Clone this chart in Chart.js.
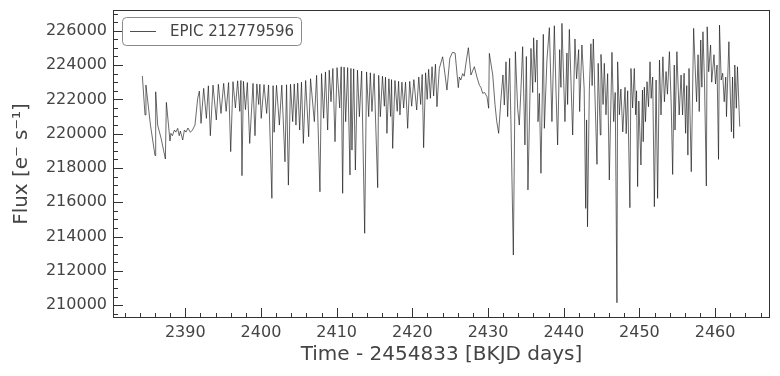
<!DOCTYPE html>
<html>
<head>
<meta charset="utf-8">
<script src="https://cdn.jsdelivr.net/npm/chart.js@4.4.1/dist/chart.umd.min.js"></script>
<style>
  html, body { margin: 0; padding: 0; background: #fff; }
  #wrap { width: 780px; height: 376px; }
</style>
</head>
<body>
<div id="wrap"><canvas id="lc" width="780" height="376"></canvas></div>
<script>
// Time (BKJD - 2454833)
const time = [
2384.33,2384.68,2384.80,2385.40,2386.00,2386.09,2386.35,2386.80,2387.37,2387.50,
2387.98,2388.10,2388.30,2388.56,2388.75,2389.00,2389.20,2389.35,2389.66,2389.88,
2390.10,2390.35,2390.67,2390.95,2391.28,2391.64,2391.86,2392.08,2392.43,2392.79,
2393.05,2393.31,2393.66,2394.10,2394.37,2394.72,2395.07,2395.40,2395.72,2396.00,
2396.30,2396.62,2396.92,2397.20,2397.35,2397.49,2397.68,2397.95,2398.20,2398.51,
2398.95,2399.21,2399.45,2399.70,2399.85,2400.03,2400.40,2400.75,2401.00,2401.44,
2401.60,2401.74,2402.05,2402.43,2402.75,2403.17,2403.38,2403.62,2403.90,2404.19,
2404.40,2404.62,2404.85,2405.11,2405.35,2405.60,2405.90,2406.30,2406.55,2407.05,
2407.35,2407.79,2408.00,2408.28,2408.52,2408.81,2409.02,2409.25,2409.50,2409.78,
2410.05,2410.40,2410.60,2410.79,2410.98,2411.19,2411.45,2411.76,2411.88,2412.02,
2412.25,2412.47,2412.75,2413.00,2413.30,2413.70,2413.95,2414.23,2414.45,2414.66,
2414.95,2415.42,2415.55,2415.77,2416.05,2416.30,2416.45,2416.64,2416.90,2417.13,
2417.25,2417.40,2417.70,2418.00,2418.18,2418.36,2418.62,2418.85,2419.10,2419.38,
2419.65,2419.91,2420.20,2420.57,2420.85,2421.10,2421.30,2421.49,2421.75,2421.96,
2422.15,2422.38,2422.60,2422.81,2423.05,2423.25,2423.56,2424.00,2424.30,2424.57,
2424.95,2425.30,2425.65,2426.07,2426.20,2426.40,2426.65,2426.85,2427.08,2427.40,
2427.74,2428.19,2428.53,2428.85,2429.05,2429.29,2429.55,2429.86,2430.08,2430.17,
2430.62,2430.92,2431.14,2431.40,2431.71,2431.97,2432.15,2432.37,2432.59,2432.85,
2433.03,2433.34,2433.61,2433.91,2434.13,2434.35,2434.57,2434.87,2435.06,2435.27,
2435.67,2435.90,2436.02,2436.25,2436.46,2436.60,2436.78,2436.99,2437.30,2437.44,
2437.78,2438.10,2438.44,2438.76,2438.97,2439.19,2439.46,2439.63,2439.76,2440.16,
2440.42,2440.51,2440.74,2441.18,2441.48,2441.70,2441.97,2442.10,2442.40,2442.70,
2442.90,2443.02,2443.14,2443.38,2443.59,2443.75,2443.91,2444.10,2444.39,2444.55,
2444.83,2444.92,2445.20,2445.36,2445.58,2445.80,2446.02,2446.37,2446.60,2446.80,
2447.03,2447.12,2447.35,2447.55,2447.80,2448.10,2448.25,2448.45,2448.74,2448.88,
2449.10,2449.32,2449.50,2449.62,2449.76,2449.92,2450.20,2450.40,2450.50,2450.65,
2450.80,2451.00,2451.20,2451.40,2451.55,2451.75,2451.97,2452.20,2452.40,2452.65,
2452.85,2453.10,2453.30,2453.52,2453.70,2453.96,2454.20,2454.39,2454.60,2454.70,
2454.95,2455.25,2455.50,2455.70,2455.90,2456.10,2456.25,2456.40,2456.55,2456.85,
2457.16,2457.35,2457.55,2457.75,2457.90,2458.10,2458.25,2458.39,2458.60,2458.84,
2458.95,2459.15,2459.40,2459.55,2459.85,2460.05,2460.25,2460.45,2460.58,2460.80,
2461.00,2461.20,2461.40,2461.50,2461.82,2461.95,2462.15,2462.30,2462.45,2462.60,
2462.80,2462.95,2463.25
];

// Flux in e-/s
const flux = [
223360,221090,222830,220500,218720,222440,220500,219730,218520,221820,
219570,220020,219880,220210,220090,220310,219880,220150,219630,220210,
220090,220330,220080,220210,220500,222060,222480,220600,222640,220890,
222790,219880,222830,220800,222880,221180,222930,221300,222980,218950,
223030,221500,223080,221300,223100,217550,223050,221400,222980,219430,
222930,219880,222900,221700,222880,220890,222860,221180,222840,216230,
222800,220080,222820,220500,222830,218360,222850,217000,222880,220700,
222900,220500,222950,220210,223000,219430,223100,219820,223200,220700,
223400,216610,223500,220900,223600,220210,223700,221860,223800,219530,
223850,221500,223900,216520,223880,220700,223850,217590,223800,219040,
223780,217880,223700,220990,223650,214190,223600,220990,223550,221290,
223500,216850,223400,220990,223350,221600,223300,220020,223200,221000,
223150,219140,223100,221300,223050,221090,223000,221500,223000,220310,
223050,221600,223150,221380,223300,221700,223450,219180,223550,222000,
223750,222060,223900,222200,224050,221570,223800,224480,223500,222540,
224400,224740,224700,222680,223300,223130,223500,223350,224100,225010,
223420,223900,223300,222830,222700,222350,222400,222150,221480,224680,
223420,221700,220740,220020,222060,223420,221670,224190,220990,224390,
220500,212920,224780,221480,220500,222620,225070,219340,224500,216720,
224970,222400,225590,223000,225460,220700,222350,217690,225790,220310,
224300,226180,220700,226290,222600,219340,224900,222700,226430,220700,
224700,221700,226080,219920,225520,223200,224900,221290,225170,222600,
215640,220800,214570,222500,225240,222800,225520,222600,218210,224100,
219920,224620,221700,224100,221100,223500,217300,224740,220700,222400,
210140,224190,221100,222600,220100,222700,220000,222500,215680,223800,
221500,223800,221100,222500,216910,221900,218170,222540,219530,222710,
220700,223030,221570,224190,222060,223300,215740,223130,216230,224290,
221090,224480,221860,223620,222300,224780,221670,217620,224000,220210,
224780,221090,223420,221090,223520,220020,222800,218750,223800,217780,
226140,224000,221860,224600,221290,225460,222710,225940,223000,216950,
226230,223610,225170,223000,224600,222900,224000,218500,226330,223130,
223520,221860,223300,220990,225360,223130,220110,223300,219730,224000,
221480,223900,220410
];

const xTicks = [2390, 2400, 2410, 2420, 2430, 2440, 2450, 2460];
const yTicks = [210000, 212000, 214000, 216000, 218000, 220000, 222000, 224000, 226000];
const seriesLabel = 'EPIC 212779596';

const ink = '#444444';
const spine = '#333333';

// matplotlib-ish frame with inward ticks (major + minor)
const framePlugin = {
  id: 'frame',
  afterDraw(chart) {
    const { ctx, chartArea: a, scales: { x, y } } = chart;
    ctx.save();
    ctx.strokeStyle = spine;
    ctx.lineWidth = 1;
    ctx.strokeRect(a.left + 0.5, a.top + 0.5, a.right - a.left - 1, a.bottom - a.top - 1);

    ctx.beginPath();
    for (let v = Math.ceil(x.min / 2) * 2; v <= x.max; v += 2) {
      const px = Math.round(x.getPixelForValue(v)) + 0.5;
      const len = v % 10 === 0 ? 10 : 5;
      ctx.moveTo(px, a.bottom);
      ctx.lineTo(px, a.bottom - len);
    }
    for (let v = Math.ceil(y.min / 500) * 500; v <= y.max; v += 500) {
      const py = Math.round(y.getPixelForValue(v)) + 0.5;
      const len = v % 2000 === 0 ? 10 : 5;
      ctx.moveTo(a.left, py);
      ctx.lineTo(a.left + len, py);
    }
    ctx.stroke();
    ctx.restore();
  }
};

// legend box drawn inside the plot, upper left
const legendPlugin = {
  id: 'boxLegend',
  afterDraw(chart) {
    const { ctx, chartArea: a } = chart;
    const bx = a.left + 9, by = a.top + 7, bw = 179, bh = 28, r = 4;
    ctx.save();
    ctx.fillStyle = 'rgba(255,255,255,0.85)';
    ctx.strokeStyle = '#8a8a8a';
    ctx.lineWidth = 1;
    ctx.beginPath();
    ctx.roundRect(bx + 0.5, by + 0.5, bw, bh, r);
    ctx.fill();
    ctx.stroke();

    ctx.strokeStyle = '#222';
    ctx.lineWidth = 0.8;
    ctx.beginPath();
    ctx.moveTo(bx + 8, by + 14.5);
    ctx.lineTo(bx + 34, by + 14.5);
    ctx.stroke();

    ctx.fillStyle = ink;
    ctx.font = '15px "DejaVu Sans"';
    ctx.textBaseline = 'middle';
    ctx.fillText(seriesLabel, bx + 48, by + 15);
    ctx.restore();
  }
};

const points = time.map((t, i) => ({ x: t, y: flux[i] }));

new Chart(document.getElementById('lc'), {
  type: 'line',
  data: {
    datasets: [{
      label: seriesLabel,
      data: points,
      borderColor: 'rgba(17,17,17,0.9)',
      borderWidth: 0.7,
      pointRadius: 0,
      tension: 0,
      fill: false
    }]
  },
  options: {
    responsive: false,
    devicePixelRatio: 1,
    animation: false,
    layout: { padding: { left: 0, right: 10, top: 10, bottom: 0 } },
    plugins: {
      legend: { display: false },
      tooltip: { enabled: false }
    },
    scales: {
      x: {
        type: 'linear',
        position: 'bottom',
        min: 2380.45,
        max: 2467.25,
        afterBuildTicks: s => { s.ticks = xTicks.map(v => ({ value: v })); },
        afterFit: s => { s.height = 58; s.paddingLeft = 0; s.paddingRight = 0; },
        grid: { display: false, drawTicks: false },
        border: { display: false },
        ticks: {
          color: ink,
          padding: 5,
          maxRotation: 0,
          font: { family: 'DejaVu Sans', size: 16 },
          callback: v => String(v)
        },
        title: {
          display: true,
          text: 'Time - 2454833 [BKJD days]',
          color: ink,
          font: { family: 'DejaVu Sans', size: 20 },
          padding: { top: 0, bottom: 9 }
        }
      },
      y: {
        type: 'linear',
        min: 209250,
        max: 227210,
        afterBuildTicks: s => { s.ticks = yTicks.map(v => ({ value: v })); },
        afterFit: s => { s.width = 113; s.paddingTop = 0; s.paddingBottom = 0; },
        grid: { display: false, drawTicks: false },
        border: { display: false },
        ticks: {
          color: ink,
          padding: 6,
          font: { family: 'DejaVu Sans', size: 16 },
          callback: v => String(v)
        },
        title: {
          display: true,
          text: 'Flux [e\u207B s\u207B\u00B9]',
          color: ink,
          font: { family: 'DejaVu Sans', size: 20 },
          padding: { top: 10, bottom: 0 }
        }
      }
    }
  },
  plugins: [framePlugin, legendPlugin]
});
</script>
</body>
</html>
